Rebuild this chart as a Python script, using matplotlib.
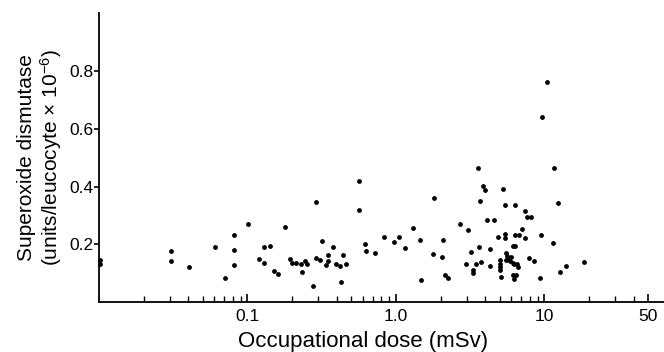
import matplotlib
matplotlib.use("Agg")
import matplotlib.pyplot as plt
from matplotlib.ticker import FixedLocator, FixedFormatter, NullFormatter

plt.rcParams['font.family'] = ['Liberation Sans', 'DejaVu Sans']
plt.rcParams['mathtext.fontset'] = 'custom'
plt.rcParams['mathtext.rm'] = 'Liberation Sans'
plt.rcParams['mathtext.it'] = 'Liberation Sans'

# occupational dose (mSv) and superoxide dismutase values
dose = [0.0102, 0.0102, 0.0305, 0.0305, 0.0406, 0.0604, 0.0709, 0.0815, 0.0815, 0.0815,
        0.101, 0.120, 0.129, 0.129, 0.141, 0.151, 0.160, 0.179, 0.193, 0.200,
        0.213, 0.229, 0.234, 0.243, 0.254, 0.278, 0.292, 0.290, 0.309, 0.318,
        0.336, 0.347, 0.347, 0.378, 0.393, 0.422, 0.428, 0.438, 0.463, 0.563,
        0.569, 0.618, 0.631, 0.722, 0.830, 0.969, 1.052, 1.144, 1.296, 1.451,
        1.467, 1.817, 1.789, 2.031, 2.066, 2.135, 2.250, 2.685, 2.965, 3.078,
        3.214, 3.326, 3.326, 3.457, 3.566, 3.605, 3.667, 3.719, 3.872, 4.006,
        4.112, 4.309, 4.276, 4.592, 4.886, 5.016, 5.016, 5.016, 5.016, 5.134,
        5.254, 5.420, 5.463, 5.404, 5.505, 5.617, 5.741, 5.857, 5.505, 5.949,
        6.108, 6.261, 6.166, 6.360, 6.166, 6.261, 6.398, 6.329, 6.499, 6.600,
        6.300, 6.704, 7.023, 7.357, 7.589, 8.111, 7.425, 7.829, 8.458, 9.311,
        9.471, 9.665, 10.44, 11.53, 11.59, 12.46, 12.78, 13.89, 18.37]
sod = [0.145, 0.131, 0.179, 0.144, 0.121, 0.192, 0.083, 0.233, 0.180, 0.128,
       0.271, 0.151, 0.191, 0.136, 0.196, 0.107, 0.098, 0.262, 0.151, 0.135,
       0.135, 0.132, 0.105, 0.144, 0.131, 0.058, 0.347, 0.153, 0.146, 0.213,
       0.129, 0.165, 0.144, 0.191, 0.132, 0.127, 0.072, 0.163, 0.134, 0.421,
       0.318, 0.200, 0.176, 0.170, 0.226, 0.210, 0.225, 0.189, 0.256, 0.215,
       0.078, 0.360, 0.166, 0.158, 0.214, 0.096, 0.083, 0.272, 0.132, 0.249,
       0.174, 0.113, 0.102, 0.134, 0.465, 0.193, 0.351, 0.140, 0.401, 0.388,
       0.284, 0.186, 0.125, 0.284, 0.226, 0.145, 0.133, 0.123, 0.113, 0.087,
       0.391, 0.335, 0.235, 0.222, 0.171, 0.160, 0.151, 0.144, 0.148, 0.158,
       0.137, 0.134, 0.194, 0.196, 0.094, 0.082, 0.094, 0.335, 0.131, 0.123,
       0.232, 0.232, 0.254, 0.316, 0.295, 0.295, 0.224, 0.154, 0.143, 0.084,
       0.234, 0.642, 0.760, 0.206, 0.465, 0.342, 0.104, 0.124, 0.138]

xticks = [0.1, 1, 10, 50]
xticklabels = ['0.1', '1.0', '10', '50']
xminor = [0.02, 0.03, 0.04, 0.05, 0.06, 0.07, 0.08, 0.09,
          0.2, 0.3, 0.4, 0.5, 0.6, 0.7, 0.8, 0.9,
          2, 3, 4, 5, 6, 7, 8, 9, 20, 30, 40]
yticks = [0.2, 0.4, 0.6, 0.8]

fig = plt.figure(figsize=(6.64, 3.52), dpi=100)
ax = fig.add_axes([0.149, 0.141, 0.851, 0.822])

ax.scatter(dose, sod, s=12, color='black', linewidths=0, clip_on=False, zorder=3)

ax.set_xscale('log')
ax.set_xlim(0.01, 64)
ax.set_ylim(0, 1.0)

ax.xaxis.set_major_locator(FixedLocator(xticks))
ax.xaxis.set_major_formatter(FixedFormatter(xticklabels))
ax.xaxis.set_minor_locator(FixedLocator(xminor))
ax.xaxis.set_minor_formatter(NullFormatter())
ax.set_yticks(yticks)
ax.set_yticklabels(['0.2', '0.4', '0.6', '0.8'])

ax.spines['top'].set_visible(False)
ax.spines['right'].set_visible(False)
ax.spines['left'].set_linewidth(1.3)
ax.spines['bottom'].set_linewidth(1.3)

ax.tick_params(axis='x', which='major', direction='in', length=6, width=1.2,
               labelsize=12.5, pad=5)
ax.tick_params(axis='x', which='minor', direction='in', length=4, width=1.0)
ax.tick_params(axis='y', which='major', direction='out', length=3.5, width=1.2,
               labelsize=12.5, pad=0.5)

ax.set_xlabel('Occupational dose (mSv)', fontsize=16)
ax.xaxis.set_label_coords(0.467, -0.1)
ax.set_ylabel('Superoxide dismutase\n(units/leucocyte \u00d7 10$^{-6}$)',
              fontsize=15, labelpad=4, linespacing=1.1)

fig.savefig('out.png', dpi=100)
